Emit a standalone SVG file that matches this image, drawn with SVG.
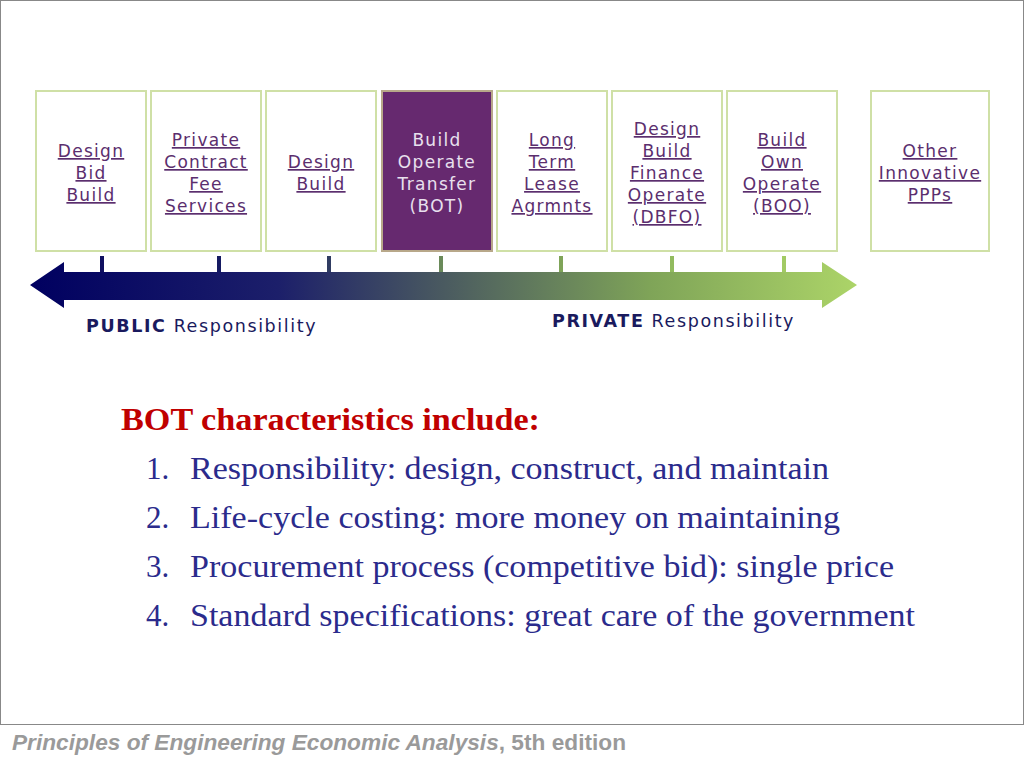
<svg xmlns="http://www.w3.org/2000/svg" width="1024" height="768" viewBox="0 0 1024 768">
<style>
.box{fill:#fff;stroke:#cfe0a6;stroke-width:2}
.lk{font-family:"DejaVu Sans",sans-serif;font-size:17px;letter-spacing:1.3px;fill:#5b2e6e;text-anchor:middle;text-decoration:underline}
.wt{font-family:"DejaVu Sans",sans-serif;font-size:17px;letter-spacing:1.3px;fill:#e8e0ee;text-anchor:middle}
.tk{stroke-width:4}
.lab{font-family:"DejaVu Sans",sans-serif;font-size:17.5px;letter-spacing:1.6px;fill:#1a1a5e}
.body{font-family:"Liberation Serif",serif;font-size:31px;fill:#2b2b8c}
</style>
<defs>
<linearGradient id="g" x1="30" x2="857" gradientUnits="userSpaceOnUse">
<stop offset="0" stop-color="#000060"/>
<stop offset="0.3" stop-color="#1c1f6a"/>
<stop offset="0.5" stop-color="#4a5a60"/>
<stop offset="0.75" stop-color="#7fa458"/>
<stop offset="1" stop-color="#acd468"/>
</linearGradient>
</defs>
<rect x="0.5" y="0.5" width="1023" height="724" fill="#fff" stroke="#888"/>
<g id="connectors">
<path d="M30,285 L64,262 L64,272 L822,272 L822,262 L857,285 L822,308 L822,300 L64,300 L64,308 Z" fill="url(#g)"/>
<line class="tk" x1="102" y1="256" x2="102" y2="272" stroke="#101060"/>
<line class="tk" x1="219" y1="256" x2="219" y2="272" stroke="#151a62"/>
<line class="tk" x1="329" y1="256" x2="329" y2="272" stroke="#303c62"/>
<line class="tk" x1="441" y1="256" x2="441" y2="272" stroke="#6a8a5a"/>
<line class="tk" x1="561" y1="256" x2="561" y2="272" stroke="#7fa458"/>
<line class="tk" x1="672" y1="256" x2="672" y2="272" stroke="#92bb5f"/>
<line class="tk" x1="784" y1="256" x2="784" y2="272" stroke="#a2ca64"/>
</g>
<g id="n1"><rect class="box" x="36" y="91" width="110" height="160"/>
<text class="lk" x="91" y="157">Design</text><text class="lk" x="91" y="179">Bid</text><text class="lk" x="91" y="201">Build</text></g>
<g id="n2"><rect class="box" x="151" y="91" width="110" height="160"/>
<text class="lk" x="206" y="146">Private</text><text class="lk" x="206" y="168">Contract</text><text class="lk" x="206" y="190">Fee</text><text class="lk" x="206" y="212">Services</text></g>
<g id="n3"><rect class="box" x="266" y="91" width="110" height="160"/>
<text class="lk" x="321" y="168">Design</text><text class="lk" x="321" y="190">Build</text></g>
<g id="n4"><rect x="382" y="91" width="110" height="160" fill="#66296f" stroke="#b8a88a" stroke-width="2"/>
<text class="wt" x="437" y="146">Build</text><text class="wt" x="437" y="168">Operate</text><text class="wt" x="437" y="190">Transfer</text><text class="wt" x="437" y="212">(BOT)</text></g>
<g id="n5"><rect class="box" x="497" y="91" width="110" height="160"/>
<text class="lk" x="552" y="146">Long</text><text class="lk" x="552" y="168">Term</text><text class="lk" x="552" y="190">Lease</text><text class="lk" x="552" y="212">Agrmnts</text></g>
<g id="n6"><rect class="box" x="612" y="91" width="110" height="160"/>
<text class="lk" x="667" y="135">Design</text><text class="lk" x="667" y="157">Build</text><text class="lk" x="667" y="179">Finance</text><text class="lk" x="667" y="201">Operate</text><text class="lk" x="667" y="223">(DBFO)</text></g>
<g id="n7"><rect class="box" x="727" y="91" width="110" height="160"/>
<text class="lk" x="782" y="146">Build</text><text class="lk" x="782" y="168">Own</text><text class="lk" x="782" y="190">Operate</text><text class="lk" x="782" y="212">(BOO)</text></g>
<g id="n8"><rect class="box" x="871" y="91" width="118" height="160"/>
<text class="lk" x="930" y="157">Other</text><text class="lk" x="930" y="179">Innovative</text><text class="lk" x="930" y="201">PPPs</text></g>
<text class="lab" x="86" y="332"><tspan font-weight="bold">PUBLIC</tspan> Responsibility</text>
<text class="lab" x="552" y="327"><tspan font-weight="bold">PRIVATE</tspan> Responsibility</text>
<text x="121" y="430" font-family="Liberation Serif,serif" font-size="31" font-weight="bold" fill="#c00000" textLength="419" lengthAdjust="spacingAndGlyphs">BOT characteristics include:</text>
<text class="body" x="146" y="479">1.</text><text class="body" x="190" y="479" textLength="639" lengthAdjust="spacingAndGlyphs">Responsibility: design, construct, and maintain</text>
<text class="body" x="146" y="528">2.</text><text class="body" x="190" y="528" textLength="650" lengthAdjust="spacingAndGlyphs">Life-cycle costing: more money on maintaining</text>
<text class="body" x="146" y="577">3.</text><text class="body" x="190" y="577" textLength="704" lengthAdjust="spacingAndGlyphs">Procurement process (competitive bid): single price</text>
<text class="body" x="146" y="626">4.</text><text class="body" x="190" y="626" textLength="725" lengthAdjust="spacingAndGlyphs">Standard specifications: great care of the government</text>
<text x="12" y="750" font-family="Liberation Sans,sans-serif" font-size="22" font-weight="bold" fill="#9a9a9a" textLength="614" lengthAdjust="spacingAndGlyphs"><tspan font-style="italic">Principles of Engineering Economic Analysis</tspan>, 5th edition</text>
</svg>
